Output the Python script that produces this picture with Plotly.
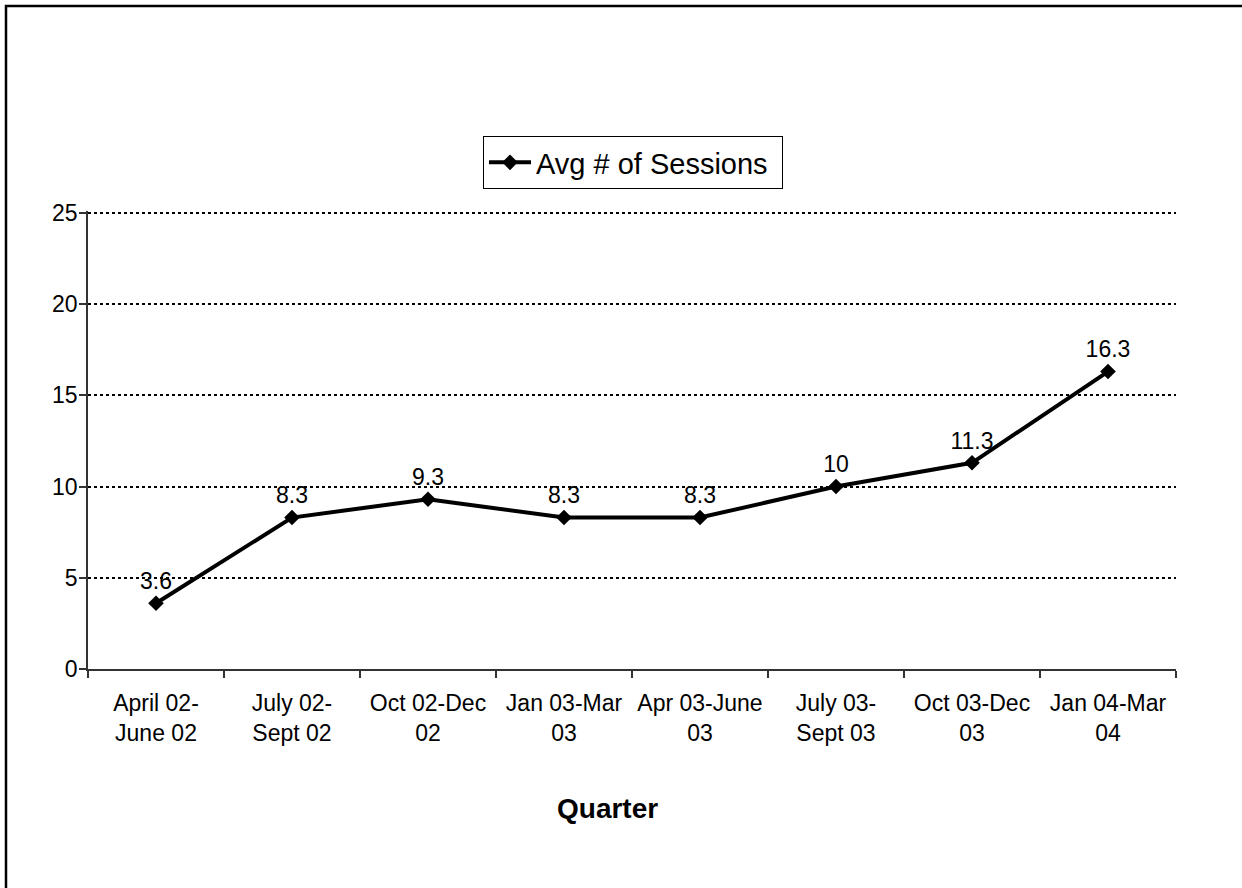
import plotly.graph_objects as go

categories = ["April 02-<br>June 02", "July 02-<br>Sept 02", "Oct 02-Dec<br>02", "Jan 03-Mar<br>03",
              "Apr 03-June<br>03", "July 03-<br>Sept 03", "Oct 03-Dec<br>03", "Jan 04-Mar<br>04"]
avg_sessions = [3.6, 8.3, 9.3, 8.3, 8.3, 10, 11.3, 16.3]
value_labels = ["3.6", "8.3", "9.3", "8.3", "8.3", "10", "11.3", "16.3"]
y_ticks = [0, 5, 10, 15, 20, 25]
series_name = "Avg # of Sessions"
x_title = "Quarter"

W, H = 1242, 888
L, R, T, B = 88, 66, 211, 219
pw, ph = W - L - R, H - T - B

def px(x):
    return (x - L) / pw

def py(y):
    return (H - B - y) / ph

FONT = "Liberation Sans, Arial, sans-serif"

fig = go.Figure()
fig.add_trace(go.Scatter(
    x=categories, y=avg_sessions, name=series_name,
    mode="lines+markers+text",
    line=dict(color="black", width=4),
    marker=dict(symbol="diamond", size=12, color="black"),
    text=value_labels, textposition="top center",
    textfont=dict(family=FONT, size=23, color="black"),
    cliponaxis=False,
))

fig.update_layout(
    width=W, height=H,
    margin=dict(l=L, r=R, t=T, b=B, autoexpand=False),
    paper_bgcolor="white", plot_bgcolor="white",
    font=dict(family=FONT, size=23, color="black"),
    showlegend=True,
    legend=dict(
        x=px(483), y=py(136), xanchor="left", yanchor="top",
        orientation="h", entrywidth=241,
        bordercolor="black", borderwidth=1, bgcolor="white",
        itemwidth=42,
        font=dict(family=FONT, size=29, color="black"),
    ),
    xaxis=dict(
        type="category", range=[-0.5, len(categories) - 0.5],
        showline=True, linecolor="#333", linewidth=1.5,
        ticks="outside", tickson="boundaries", ticklen=7, tickcolor="#333", tickwidth=1.5,
        ticklabelstandoff=13,
        showgrid=False, tickfont=dict(family=FONT, size=23, color="black"),
    ),
    yaxis=dict(
        range=[0, 25.1], tickvals=y_ticks,
        showline=True, linecolor="#333", linewidth=1.5,
        ticks="outside", ticklen=7, tickcolor="#333", tickwidth=1.5,
        ticklabelstandoff=-3,
        showgrid=True, gridcolor="black", gridwidth=2, griddash="dot",
        zeroline=False, tickfont=dict(family=FONT, size=23, color="black"),
    ),
    annotations=[dict(
        text="<b>" + x_title + "</b>", xref="paper", yref="paper",
        x=px(607), y=py(808), xanchor="center", yanchor="middle",
        showarrow=False, font=dict(family=FONT, size=28, color="black"),
    )],
    shapes=[dict(
        type="rect", xref="paper", yref="paper",
        x0=px(6), y0=py(900), x1=px(1260), y1=py(6),
        line=dict(color="black", width=2.5), fillcolor="rgba(0,0,0,0)", layer="above",
    )],
)

fig.write_html("out.html", config={"displayModeBar": False},
               post_script="document.body.style.margin='0px';")
